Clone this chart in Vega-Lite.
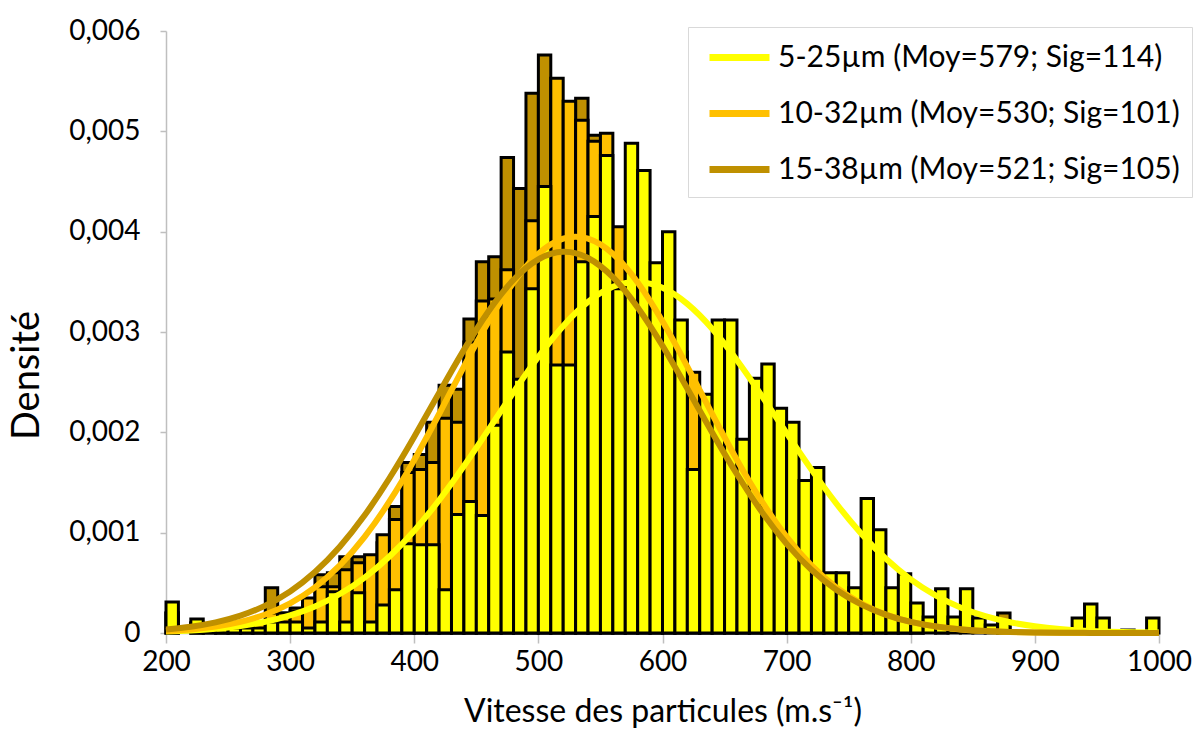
{
  "$schema": "https://vega.github.io/schema/vega-lite/v6.json",
  "width": 993,
  "height": 602,
  "autosize": {"type": "none"},
  "padding": {"left": 166, "top": 31, "right": 37, "bottom": 96},
  "background": "white",
  "config": {
    "font": "Lato",
    "view": {"stroke": null},
    "axis": {"grid": false, "labelColor": "#000", "titleColor": "#000", "titleFontWeight": "normal", "labelFont": "Lato", "titleFont": "Lato", "domainColor": "#bfbfbf", "tickColor": "#bfbfbf", "domainWidth": 1.5, "tickWidth": 1.5}
  },
  "datasets": {
    "barres": [
      {"serie":"15-38","vitesse":200,"fin":210,"densite":0.0002},
      {"serie":"15-38","vitesse":220,"fin":230,"densite":0.0001},
      {"serie":"15-38","vitesse":230,"fin":240,"densite":0.00007},
      {"serie":"15-38","vitesse":240,"fin":250,"densite":0.00005},
      {"serie":"15-38","vitesse":250,"fin":260,"densite":0.00005},
      {"serie":"15-38","vitesse":260,"fin":270,"densite":0.00008},
      {"serie":"15-38","vitesse":270,"fin":280,"densite":0.0001},
      {"serie":"15-38","vitesse":280,"fin":290,"densite":0.00045},
      {"serie":"15-38","vitesse":290,"fin":300,"densite":0.0002},
      {"serie":"15-38","vitesse":300,"fin":310,"densite":0.00025},
      {"serie":"15-38","vitesse":310,"fin":320,"densite":0.0003},
      {"serie":"15-38","vitesse":320,"fin":330,"densite":0.00058},
      {"serie":"15-38","vitesse":330,"fin":340,"densite":0.0006},
      {"serie":"15-38","vitesse":340,"fin":350,"densite":0.00076},
      {"serie":"15-38","vitesse":350,"fin":360,"densite":0.00076},
      {"serie":"15-38","vitesse":360,"fin":370,"densite":0.0007},
      {"serie":"15-38","vitesse":370,"fin":380,"densite":0.0009},
      {"serie":"15-38","vitesse":380,"fin":390,"densite":0.00126},
      {"serie":"15-38","vitesse":390,"fin":400,"densite":0.0017},
      {"serie":"15-38","vitesse":400,"fin":410,"densite":0.00178},
      {"serie":"15-38","vitesse":410,"fin":420,"densite":0.0021},
      {"serie":"15-38","vitesse":420,"fin":430,"densite":0.00247},
      {"serie":"15-38","vitesse":430,"fin":440,"densite":0.00243},
      {"serie":"15-38","vitesse":440,"fin":450,"densite":0.00313},
      {"serie":"15-38","vitesse":450,"fin":460,"densite":0.0037},
      {"serie":"15-38","vitesse":460,"fin":470,"densite":0.00375},
      {"serie":"15-38","vitesse":470,"fin":480,"densite":0.00474},
      {"serie":"15-38","vitesse":480,"fin":490,"densite":0.00443},
      {"serie":"15-38","vitesse":490,"fin":500,"densite":0.00538},
      {"serie":"15-38","vitesse":500,"fin":510,"densite":0.00576},
      {"serie":"15-38","vitesse":510,"fin":520,"densite":0.0052},
      {"serie":"15-38","vitesse":520,"fin":530,"densite":0.005},
      {"serie":"15-38","vitesse":530,"fin":540,"densite":0.00533},
      {"serie":"15-38","vitesse":540,"fin":550,"densite":0.00496},
      {"serie":"15-38","vitesse":550,"fin":560,"densite":0.0045},
      {"serie":"15-38","vitesse":560,"fin":570,"densite":0.0033},
      {"serie":"15-38","vitesse":570,"fin":580,"densite":0.0035},
      {"serie":"15-38","vitesse":580,"fin":590,"densite":0.0034},
      {"serie":"15-38","vitesse":590,"fin":600,"densite":0.003},
      {"serie":"15-38","vitesse":600,"fin":610,"densite":0.0029},
      {"serie":"15-38","vitesse":610,"fin":620,"densite":0.0026},
      {"serie":"15-38","vitesse":620,"fin":630,"densite":0.0022},
      {"serie":"15-38","vitesse":630,"fin":640,"densite":0.002},
      {"serie":"15-38","vitesse":640,"fin":650,"densite":0.0018},
      {"serie":"15-38","vitesse":650,"fin":660,"densite":0.0016},
      {"serie":"15-38","vitesse":660,"fin":670,"densite":0.0013},
      {"serie":"15-38","vitesse":670,"fin":680,"densite":0.0011},
      {"serie":"15-38","vitesse":680,"fin":690,"densite":0.0009},
      {"serie":"15-38","vitesse":690,"fin":700,"densite":0.0008},
      {"serie":"15-38","vitesse":700,"fin":710,"densite":0.0006},
      {"serie":"15-38","vitesse":710,"fin":720,"densite":0.0005},
      {"serie":"15-38","vitesse":720,"fin":730,"densite":0.0004},
      {"serie":"15-38","vitesse":730,"fin":740,"densite":0.0003},
      {"serie":"15-38","vitesse":740,"fin":750,"densite":0.0002},
      {"serie":"15-38","vitesse":750,"fin":760,"densite":0.0002},
      {"serie":"15-38","vitesse":760,"fin":770,"densite":0.0001},
      {"serie":"15-38","vitesse":770,"fin":780,"densite":0.0001},
      {"serie":"15-38","vitesse":780,"fin":790,"densite":0.0001},
      {"serie":"15-38","vitesse":790,"fin":800,"densite":0.0001},
      {"serie":"15-38","vitesse":800,"fin":810,"densite":0.00005},
      {"serie":"15-38","vitesse":820,"fin":830,"densite":0.00005},
      {"serie":"15-38","vitesse":870,"fin":880,"densite":0.0002},
      {"serie":"15-38","vitesse":970,"fin":980,"densite":0.00003},

      {"serie":"10-32","vitesse":200,"fin":210,"densite":0.0002},
      {"serie":"10-32","vitesse":220,"fin":230,"densite":0.0001},
      {"serie":"10-32","vitesse":230,"fin":240,"densite":0.00005},
      {"serie":"10-32","vitesse":240,"fin":250,"densite":0.00005},
      {"serie":"10-32","vitesse":250,"fin":260,"densite":0.00005},
      {"serie":"10-32","vitesse":260,"fin":270,"densite":0.00008},
      {"serie":"10-32","vitesse":270,"fin":280,"densite":0.0001},
      {"serie":"10-32","vitesse":280,"fin":290,"densite":0.0002},
      {"serie":"10-32","vitesse":290,"fin":300,"densite":0.0002},
      {"serie":"10-32","vitesse":300,"fin":310,"densite":0.00022},
      {"serie":"10-32","vitesse":310,"fin":320,"densite":0.00035},
      {"serie":"10-32","vitesse":320,"fin":330,"densite":0.00046},
      {"serie":"10-32","vitesse":330,"fin":340,"densite":0.00046},
      {"serie":"10-32","vitesse":340,"fin":350,"densite":0.00063},
      {"serie":"10-32","vitesse":350,"fin":360,"densite":0.0007},
      {"serie":"10-32","vitesse":360,"fin":370,"densite":0.00078},
      {"serie":"10-32","vitesse":370,"fin":380,"densite":0.00098},
      {"serie":"10-32","vitesse":380,"fin":390,"densite":0.00113},
      {"serie":"10-32","vitesse":390,"fin":400,"densite":0.0016},
      {"serie":"10-32","vitesse":400,"fin":410,"densite":0.00163},
      {"serie":"10-32","vitesse":410,"fin":420,"densite":0.0017},
      {"serie":"10-32","vitesse":420,"fin":430,"densite":0.00214},
      {"serie":"10-32","vitesse":430,"fin":440,"densite":0.0021},
      {"serie":"10-32","vitesse":440,"fin":450,"densite":0.0029},
      {"serie":"10-32","vitesse":450,"fin":460,"densite":0.00331},
      {"serie":"10-32","vitesse":460,"fin":470,"densite":0.00333},
      {"serie":"10-32","vitesse":470,"fin":480,"densite":0.00362},
      {"serie":"10-32","vitesse":480,"fin":490,"densite":0.0024},
      {"serie":"10-32","vitesse":490,"fin":500,"densite":0.00411},
      {"serie":"10-32","vitesse":500,"fin":510,"densite":0.0042},
      {"serie":"10-32","vitesse":510,"fin":520,"densite":0.00553},
      {"serie":"10-32","vitesse":520,"fin":530,"densite":0.0053},
      {"serie":"10-32","vitesse":530,"fin":540,"densite":0.00511},
      {"serie":"10-32","vitesse":540,"fin":550,"densite":0.0049},
      {"serie":"10-32","vitesse":550,"fin":560,"densite":0.00498},
      {"serie":"10-32","vitesse":560,"fin":570,"densite":0.00405},
      {"serie":"10-32","vitesse":570,"fin":580,"densite":0.0038},
      {"serie":"10-32","vitesse":580,"fin":590,"densite":0.0036},
      {"serie":"10-32","vitesse":590,"fin":600,"densite":0.0032},
      {"serie":"10-32","vitesse":600,"fin":610,"densite":0.003},
      {"serie":"10-32","vitesse":610,"fin":620,"densite":0.0028},
      {"serie":"10-32","vitesse":620,"fin":630,"densite":0.0026},
      {"serie":"10-32","vitesse":630,"fin":640,"densite":0.0021},
      {"serie":"10-32","vitesse":640,"fin":650,"densite":0.0019},
      {"serie":"10-32","vitesse":650,"fin":660,"densite":0.0017},
      {"serie":"10-32","vitesse":660,"fin":670,"densite":0.0014},
      {"serie":"10-32","vitesse":670,"fin":680,"densite":0.0012},
      {"serie":"10-32","vitesse":680,"fin":690,"densite":0.001},
      {"serie":"10-32","vitesse":690,"fin":700,"densite":0.0008},
      {"serie":"10-32","vitesse":700,"fin":710,"densite":0.0006},
      {"serie":"10-32","vitesse":710,"fin":720,"densite":0.0005},
      {"serie":"10-32","vitesse":720,"fin":730,"densite":0.0004},
      {"serie":"10-32","vitesse":730,"fin":740,"densite":0.0003},
      {"serie":"10-32","vitesse":740,"fin":750,"densite":0.0002},
      {"serie":"10-32","vitesse":750,"fin":760,"densite":0.0002},
      {"serie":"10-32","vitesse":760,"fin":770,"densite":0.0001},
      {"serie":"10-32","vitesse":770,"fin":780,"densite":0.0001},
      {"serie":"10-32","vitesse":780,"fin":790,"densite":0.0001},
      {"serie":"10-32","vitesse":790,"fin":800,"densite":0.00005},
      {"serie":"10-32","vitesse":800,"fin":810,"densite":0.00005},

      {"serie":"5-25","vitesse":200,"fin":210,"densite":0.00031},
      {"serie":"5-25","vitesse":220,"fin":230,"densite":0.00014},
      {"serie":"5-25","vitesse":240,"fin":250,"densite":0.00005},
      {"serie":"5-25","vitesse":250,"fin":260,"densite":0.00005},
      {"serie":"5-25","vitesse":260,"fin":270,"densite":0.00005},
      {"serie":"5-25","vitesse":270,"fin":280,"densite":0.00005},
      {"serie":"5-25","vitesse":280,"fin":290,"densite":0.00011},
      {"serie":"5-25","vitesse":290,"fin":300,"densite":0.00011},
      {"serie":"5-25","vitesse":300,"fin":310,"densite":0.00011},
      {"serie":"5-25","vitesse":310,"fin":320,"densite":0.00005},
      {"serie":"5-25","vitesse":320,"fin":330,"densite":0.00011},
      {"serie":"5-25","vitesse":330,"fin":340,"densite":0.00041},
      {"serie":"5-25","vitesse":340,"fin":350,"densite":0.00011},
      {"serie":"5-25","vitesse":350,"fin":360,"densite":0.0004},
      {"serie":"5-25","vitesse":360,"fin":370,"densite":0.00011},
      {"serie":"5-25","vitesse":370,"fin":380,"densite":0.00028},
      {"serie":"5-25","vitesse":380,"fin":390,"densite":0.00043},
      {"serie":"5-25","vitesse":390,"fin":400,"densite":0.00089},
      {"serie":"5-25","vitesse":400,"fin":410,"densite":0.00088},
      {"serie":"5-25","vitesse":410,"fin":420,"densite":0.00088},
      {"serie":"5-25","vitesse":420,"fin":430,"densite":0.00043},
      {"serie":"5-25","vitesse":430,"fin":440,"densite":0.00118},
      {"serie":"5-25","vitesse":440,"fin":450,"densite":0.00131},
      {"serie":"5-25","vitesse":450,"fin":460,"densite":0.00117},
      {"serie":"5-25","vitesse":460,"fin":470,"densite":0.00207},
      {"serie":"5-25","vitesse":470,"fin":480,"densite":0.0028},
      {"serie":"5-25","vitesse":480,"fin":490,"densite":0.00253},
      {"serie":"5-25","vitesse":490,"fin":500,"densite":0.00343},
      {"serie":"5-25","vitesse":500,"fin":510,"densite":0.00445},
      {"serie":"5-25","vitesse":510,"fin":520,"densite":0.00267},
      {"serie":"5-25","vitesse":520,"fin":530,"densite":0.00267},
      {"serie":"5-25","vitesse":530,"fin":540,"densite":0.0037},
      {"serie":"5-25","vitesse":540,"fin":550,"densite":0.00415},
      {"serie":"5-25","vitesse":550,"fin":560,"densite":0.00476},
      {"serie":"5-25","vitesse":560,"fin":570,"densite":0.00343},
      {"serie":"5-25","vitesse":570,"fin":580,"densite":0.00488},
      {"serie":"5-25","vitesse":580,"fin":590,"densite":0.00461},
      {"serie":"5-25","vitesse":590,"fin":600,"densite":0.00369},
      {"serie":"5-25","vitesse":600,"fin":610,"densite":0.004},
      {"serie":"5-25","vitesse":610,"fin":620,"densite":0.00312},
      {"serie":"5-25","vitesse":620,"fin":630,"densite":0.00163},
      {"serie":"5-25","vitesse":630,"fin":640,"densite":0.00238},
      {"serie":"5-25","vitesse":640,"fin":650,"densite":0.00312},
      {"serie":"5-25","vitesse":650,"fin":660,"densite":0.00312},
      {"serie":"5-25","vitesse":660,"fin":670,"densite":0.00193},
      {"serie":"5-25","vitesse":670,"fin":680,"densite":0.00254},
      {"serie":"5-25","vitesse":680,"fin":690,"densite":0.00268},
      {"serie":"5-25","vitesse":690,"fin":700,"densite":0.00224},
      {"serie":"5-25","vitesse":700,"fin":710,"densite":0.0021},
      {"serie":"5-25","vitesse":710,"fin":720,"densite":0.00152},
      {"serie":"5-25","vitesse":720,"fin":730,"densite":0.00165},
      {"serie":"5-25","vitesse":730,"fin":740,"densite":0.0006},
      {"serie":"5-25","vitesse":740,"fin":750,"densite":0.0006},
      {"serie":"5-25","vitesse":750,"fin":760,"densite":0.00045},
      {"serie":"5-25","vitesse":760,"fin":770,"densite":0.00134},
      {"serie":"5-25","vitesse":770,"fin":780,"densite":0.00103},
      {"serie":"5-25","vitesse":780,"fin":790,"densite":0.00045},
      {"serie":"5-25","vitesse":790,"fin":800,"densite":0.00059},
      {"serie":"5-25","vitesse":800,"fin":810,"densite":0.0003},
      {"serie":"5-25","vitesse":810,"fin":820,"densite":0.00016},
      {"serie":"5-25","vitesse":820,"fin":830,"densite":0.00044},
      {"serie":"5-25","vitesse":830,"fin":840,"densite":0.00016},
      {"serie":"5-25","vitesse":840,"fin":850,"densite":0.00044},
      {"serie":"5-25","vitesse":850,"fin":860,"densite":0.00015},
      {"serie":"5-25","vitesse":860,"fin":870,"densite":0.00008},
      {"serie":"5-25","vitesse":870,"fin":880,"densite":0.00012},
      {"serie":"5-25","vitesse":930,"fin":940,"densite":0.00015},
      {"serie":"5-25","vitesse":940,"fin":950,"densite":0.00029},
      {"serie":"5-25","vitesse":950,"fin":960,"densite":0.00015},
      {"serie":"5-25","vitesse":990,"fin":1000,"densite":0.00015}
    ],
    "courbes": [
      {"serie":"5-25µm (Moy=579; Sig=114)","vitesse":200,"densite":1.393e-5},
      {"serie":"5-25µm (Moy=579; Sig=114)","vitesse":220,"densite":2.458e-5},
      {"serie":"5-25µm (Moy=579; Sig=114)","vitesse":240,"densite":4.205e-5},
      {"serie":"5-25µm (Moy=579; Sig=114)","vitesse":260,"densite":6.978e-5},
      {"serie":"5-25µm (Moy=579; Sig=114)","vitesse":280,"densite":1.1226e-4},
      {"serie":"5-25µm (Moy=579; Sig=114)","vitesse":300,"densite":1.7514e-4},
      {"serie":"5-25µm (Moy=579; Sig=114)","vitesse":320,"densite":2.6495e-4},
      {"serie":"5-25µm (Moy=579; Sig=114)","vitesse":340,"densite":3.8868e-4},
      {"serie":"5-25µm (Moy=579; Sig=114)","vitesse":360,"densite":5.5289e-4},
      {"serie":"5-25µm (Moy=579; Sig=114)","vitesse":380,"densite":7.6264e-4},
      {"serie":"5-25µm (Moy=579; Sig=114)","vitesse":400,"densite":1.0201e-3},
      {"serie":"5-25µm (Moy=579; Sig=114)","vitesse":420,"densite":1.3231e-3},
      {"serie":"5-25µm (Moy=579; Sig=114)","vitesse":440,"densite":1.6641e-3},
      {"serie":"5-25µm (Moy=579; Sig=114)","vitesse":460,"densite":2.0295e-3},
      {"serie":"5-25µm (Moy=579; Sig=114)","vitesse":480,"densite":2.4002e-3},
      {"serie":"5-25µm (Moy=579; Sig=114)","vitesse":500,"densite":2.7525e-3},
      {"serie":"5-25µm (Moy=579; Sig=114)","vitesse":520,"densite":3.0609e-3},
      {"serie":"5-25µm (Moy=579; Sig=114)","vitesse":540,"densite":3.3006e-3},
      {"serie":"5-25µm (Moy=579; Sig=114)","vitesse":560,"densite":3.4512e-3},
      {"serie":"5-25µm (Moy=579; Sig=114)","vitesse":580,"densite":3.4994e-3},
      {"serie":"5-25µm (Moy=579; Sig=114)","vitesse":600,"densite":3.4406e-3},
      {"serie":"5-25µm (Moy=579; Sig=114)","vitesse":620,"densite":3.2803e-3},
      {"serie":"5-25µm (Moy=579; Sig=114)","vitesse":640,"densite":3.0327e-3},
      {"serie":"5-25µm (Moy=579; Sig=114)","vitesse":660,"densite":2.7188e-3},
      {"serie":"5-25µm (Moy=579; Sig=114)","vitesse":680,"densite":2.3635e-3},
      {"serie":"5-25µm (Moy=579; Sig=114)","vitesse":700,"densite":1.9924e-3},
      {"serie":"5-25µm (Moy=579; Sig=114)","vitesse":720,"densite":1.6286e-3},
      {"serie":"5-25µm (Moy=579; Sig=114)","vitesse":740,"densite":1.2909e-3},
      {"serie":"5-25µm (Moy=579; Sig=114)","vitesse":760,"densite":9.9222e-4},
      {"serie":"5-25µm (Moy=579; Sig=114)","vitesse":780,"densite":7.3953e-4},
      {"serie":"5-25µm (Moy=579; Sig=114)","vitesse":800,"densite":5.3448e-4},
      {"serie":"5-25µm (Moy=579; Sig=114)","vitesse":820,"densite":3.7458e-4},
      {"serie":"5-25µm (Moy=579; Sig=114)","vitesse":840,"densite":2.5456e-4},
      {"serie":"5-25µm (Moy=579; Sig=114)","vitesse":860,"densite":1.6775e-4},
      {"serie":"5-25µm (Moy=579; Sig=114)","vitesse":880,"densite":1.0719e-4},
      {"serie":"5-25µm (Moy=579; Sig=114)","vitesse":900,"densite":6.642e-5},
      {"serie":"5-25µm (Moy=579; Sig=114)","vitesse":920,"densite":3.991e-5},
      {"serie":"5-25µm (Moy=579; Sig=114)","vitesse":940,"densite":2.325e-5},
      {"serie":"5-25µm (Moy=579; Sig=114)","vitesse":960,"densite":1.314e-5},
      {"serie":"5-25µm (Moy=579; Sig=114)","vitesse":980,"densite":7.2e-6},
      {"serie":"5-25µm (Moy=579; Sig=114)","vitesse":1000,"densite":3.8e-6},

      {"serie":"10-32µm (Moy=530; Sig=101)","vitesse":200,"densite":1.899e-5},
      {"serie":"10-32µm (Moy=530; Sig=101)","vitesse":220,"densite":3.556e-5},
      {"serie":"10-32µm (Moy=530; Sig=101)","vitesse":240,"densite":6.403e-5},
      {"serie":"10-32µm (Moy=530; Sig=101)","vitesse":260,"densite":1.1086e-4},
      {"serie":"10-32µm (Moy=530; Sig=101)","vitesse":280,"densite":1.8457e-4},
      {"serie":"10-32µm (Moy=530; Sig=101)","vitesse":300,"densite":2.9547e-4},
      {"serie":"10-32µm (Moy=530; Sig=101)","vitesse":320,"densite":4.5482e-4},
      {"serie":"10-32µm (Moy=530; Sig=101)","vitesse":340,"densite":6.7318e-4},
      {"serie":"10-32µm (Moy=530; Sig=101)","vitesse":360,"densite":9.5807e-4},
      {"serie":"10-32µm (Moy=530; Sig=101)","vitesse":380,"densite":1.3111e-3},
      {"serie":"10-32µm (Moy=530; Sig=101)","vitesse":400,"densite":1.7252e-3},
      {"serie":"10-32µm (Moy=530; Sig=101)","vitesse":420,"densite":2.1828e-3},
      {"serie":"10-32µm (Moy=530; Sig=101)","vitesse":440,"densite":2.6556e-3},
      {"serie":"10-32µm (Moy=530; Sig=101)","vitesse":460,"densite":3.1066e-3},
      {"serie":"10-32µm (Moy=530; Sig=101)","vitesse":480,"densite":3.4944e-3},
      {"serie":"10-32µm (Moy=530; Sig=101)","vitesse":500,"densite":3.7794e-3},
      {"serie":"10-32µm (Moy=530; Sig=101)","vitesse":520,"densite":3.9306e-3},
      {"serie":"10-32µm (Moy=530; Sig=101)","vitesse":540,"densite":3.9306e-3},
      {"serie":"10-32µm (Moy=530; Sig=101)","vitesse":560,"densite":3.7794e-3},
      {"serie":"10-32µm (Moy=530; Sig=101)","vitesse":580,"densite":3.4944e-3},
      {"serie":"10-32µm (Moy=530; Sig=101)","vitesse":600,"densite":3.1066e-3},
      {"serie":"10-32µm (Moy=530; Sig=101)","vitesse":620,"densite":2.6556e-3},
      {"serie":"10-32µm (Moy=530; Sig=101)","vitesse":640,"densite":2.1828e-3},
      {"serie":"10-32µm (Moy=530; Sig=101)","vitesse":660,"densite":1.7252e-3},
      {"serie":"10-32µm (Moy=530; Sig=101)","vitesse":680,"densite":1.3111e-3},
      {"serie":"10-32µm (Moy=530; Sig=101)","vitesse":700,"densite":9.5807e-4},
      {"serie":"10-32µm (Moy=530; Sig=101)","vitesse":720,"densite":6.7318e-4},
      {"serie":"10-32µm (Moy=530; Sig=101)","vitesse":740,"densite":4.5482e-4},
      {"serie":"10-32µm (Moy=530; Sig=101)","vitesse":760,"densite":2.9547e-4},
      {"serie":"10-32µm (Moy=530; Sig=101)","vitesse":780,"densite":1.8457e-4},
      {"serie":"10-32µm (Moy=530; Sig=101)","vitesse":800,"densite":1.1086e-4},
      {"serie":"10-32µm (Moy=530; Sig=101)","vitesse":820,"densite":6.403e-5},
      {"serie":"10-32µm (Moy=530; Sig=101)","vitesse":840,"densite":3.556e-5},
      {"serie":"10-32µm (Moy=530; Sig=101)","vitesse":860,"densite":1.899e-5},
      {"serie":"10-32µm (Moy=530; Sig=101)","vitesse":880,"densite":9.75e-6},
      {"serie":"10-32µm (Moy=530; Sig=101)","vitesse":900,"densite":4.81e-6},
      {"serie":"10-32µm (Moy=530; Sig=101)","vitesse":920,"densite":2.29e-6},
      {"serie":"10-32µm (Moy=530; Sig=101)","vitesse":940,"densite":1.04e-6},
      {"serie":"10-32µm (Moy=530; Sig=101)","vitesse":960,"densite":4.6e-7},
      {"serie":"10-32µm (Moy=530; Sig=101)","vitesse":980,"densite":1.9e-7},
      {"serie":"10-32µm (Moy=530; Sig=101)","vitesse":1000,"densite":8e-8},

      {"serie":"15-38µm (Moy=521; Sig=105)","vitesse":200,"densite":3.550e-5},
      {"serie":"15-38µm (Moy=521; Sig=105)","vitesse":220,"densite":6.241e-5},
      {"serie":"15-38µm (Moy=521; Sig=105)","vitesse":240,"densite":1.0581e-4},
      {"serie":"15-38µm (Moy=521; Sig=105)","vitesse":260,"densite":1.7299e-4},
      {"serie":"15-38µm (Moy=521; Sig=105)","vitesse":280,"densite":2.7275e-4},
      {"serie":"15-38µm (Moy=521; Sig=105)","vitesse":300,"densite":4.1472e-4},
      {"serie":"15-38µm (Moy=521; Sig=105)","vitesse":320,"densite":6.0813e-4},
      {"serie":"15-38µm (Moy=521; Sig=105)","vitesse":340,"densite":8.5994e-4},
      {"serie":"15-38µm (Moy=521; Sig=105)","vitesse":360,"densite":1.1727e-3},
      {"serie":"15-38µm (Moy=521; Sig=105)","vitesse":380,"densite":1.5422e-3},
      {"serie":"15-38µm (Moy=521; Sig=105)","vitesse":400,"densite":1.9560e-3},
      {"serie":"15-38µm (Moy=521; Sig=105)","vitesse":420,"densite":2.3923e-3},
      {"serie":"15-38µm (Moy=521; Sig=105)","vitesse":440,"densite":2.8216e-3},
      {"serie":"15-38µm (Moy=521; Sig=105)","vitesse":460,"densite":3.2095e-3},
      {"serie":"15-38µm (Moy=521; Sig=105)","vitesse":480,"densite":3.5206e-3},
      {"serie":"15-38µm (Moy=521; Sig=105)","vitesse":500,"densite":3.7243e-3},
      {"serie":"15-38µm (Moy=521; Sig=105)","vitesse":520,"densite":3.7993e-3},
      {"serie":"15-38µm (Moy=521; Sig=105)","vitesse":540,"densite":3.7378e-3},
      {"serie":"15-38µm (Moy=521; Sig=105)","vitesse":560,"densite":3.5463e-3},
      {"serie":"15-38µm (Moy=521; Sig=105)","vitesse":580,"densite":3.2446e-3},
      {"serie":"15-38µm (Moy=521; Sig=105)","vitesse":600,"densite":2.8629e-3},
      {"serie":"15-38µm (Moy=521; Sig=105)","vitesse":620,"densite":2.4361e-3},
      {"serie":"15-38µm (Moy=521; Sig=105)","vitesse":640,"densite":1.9990e-3},
      {"serie":"15-38µm (Moy=521; Sig=105)","vitesse":660,"densite":1.5819e-3},
      {"serie":"15-38µm (Moy=521; Sig=105)","vitesse":680,"densite":1.2073e-3},
      {"serie":"15-38µm (Moy=521; Sig=105)","vitesse":700,"densite":8.8849e-4},
      {"serie":"15-38µm (Moy=521; Sig=105)","vitesse":720,"densite":6.3060e-4},
      {"serie":"15-38µm (Moy=521; Sig=105)","vitesse":740,"densite":4.3161e-4},
      {"serie":"15-38µm (Moy=521; Sig=105)","vitesse":760,"densite":2.8489e-4},
      {"serie":"15-38µm (Moy=521; Sig=105)","vitesse":780,"densite":1.8135e-4},
      {"serie":"15-38µm (Moy=521; Sig=105)","vitesse":800,"densite":1.1132e-4},
      {"serie":"15-38µm (Moy=521; Sig=105)","vitesse":820,"densite":6.590e-5},
      {"serie":"15-38µm (Moy=521; Sig=105)","vitesse":840,"densite":3.762e-5},
      {"serie":"15-38µm (Moy=521; Sig=105)","vitesse":860,"densite":2.071e-5},
      {"serie":"15-38µm (Moy=521; Sig=105)","vitesse":880,"densite":1.100e-5},
      {"serie":"15-38µm (Moy=521; Sig=105)","vitesse":900,"densite":5.63e-6},
      {"serie":"15-38µm (Moy=521; Sig=105)","vitesse":920,"densite":2.78e-6},
      {"serie":"15-38µm (Moy=521; Sig=105)","vitesse":940,"densite":1.32e-6},
      {"serie":"15-38µm (Moy=521; Sig=105)","vitesse":960,"densite":6.1e-7},
      {"serie":"15-38µm (Moy=521; Sig=105)","vitesse":980,"densite":2.7e-7},
      {"serie":"15-38µm (Moy=521; Sig=105)","vitesse":1000,"densite":1.2e-7}
    ]
  },
  "encoding": {
    "x": {
      "field": "vitesse", "type": "quantitative",
      "scale": {"domain": [200, 1000], "nice": false, "zero": false},
      "axis": {
        "values": [200, 300, 400, 500, 600, 700, 800, 900, 1000],
        "format": "d",
        "title": "Vitesse des particules (m.s⁻¹)",
        "titleFontSize": 32, "titleY": 88, "titleBaseline": "alphabetic",
        "labelFontSize": 28, "tickSize": 10, "labelPadding": 5, "labelFlush": false
      }
    },
    "y": {
      "field": "densite", "type": "quantitative",
      "scale": {"domain": [0, 0.006], "nice": false},
      "axis": {
        "values": [0, 0.001, 0.002, 0.003, 0.004, 0.005, 0.006],
        "labelExpr": "datum.value == 0 ? '0' : replace(format(datum.value, '.3f'), '.', ',')",
        "title": "Densité",
        "titleFontSize": 38, "titleX": -139, "titleY": 344, "titleAngle": -90,
        "titleAlign": "center", "titleBaseline": "middle",
        "labelFontSize": 28, "tickSize": 6, "labelPadding": 20, "labelFlush": false
      }
    }
  },
  "layer": [
    {
      "data": {"name": "barres"},
      "transform": [{"filter": "datum.serie === '15-38'"}],
      "mark": {"type": "bar", "fill": "#BF9000", "stroke": "#000000", "strokeWidth": 3},
      "encoding": {"x2": {"field": "fin"}, "y2": {"datum": 0}}
    },
    {
      "data": {"name": "barres"},
      "transform": [{"filter": "datum.serie === '10-32'"}],
      "mark": {"type": "bar", "fill": "#FFC000", "stroke": "#000000", "strokeWidth": 3},
      "encoding": {"x2": {"field": "fin"}, "y2": {"datum": 0}}
    },
    {
      "data": {"name": "barres"},
      "transform": [{"filter": "datum.serie === '5-25'"}],
      "mark": {"type": "bar", "fill": "#FFFF00", "stroke": "#000000", "strokeWidth": 3},
      "encoding": {"x2": {"field": "fin"}, "y2": {"datum": 0}}
    },
    {
      "data": {"name": "courbes"},
      "transform": [{"filter": "datum.serie === '5-25µm (Moy=579; Sig=114)'"}],
      "mark": {"type": "line", "strokeWidth": 6, "interpolate": "natural"},
      "encoding": {
        "color": {
          "field": "serie", "type": "nominal",
          "scale": {"domain": ["5-25µm (Moy=579; Sig=114)", "10-32µm (Moy=530; Sig=101)", "15-38µm (Moy=521; Sig=105)"], "range": ["#FFFF00", "#FFC000", "#BF9000"]},
          "legend": {"orient": "none", "legendX": 522, "legendY": -4, "title": null, "symbolType": "M-0.6,0L3.4,0", "symbolSize": 900, "symbolStrokeWidth": 7, "labelFontSize": 30, "labelFont": "Lato", "labelColor": "#000", "labelOffset": 41, "rowPadding": 22, "padding": 12, "strokeColor": "#d9d9d9", "fillColor": "#ffffff", "labelLimit": 0}
        }
      }
    },
    {
      "data": {"name": "courbes"},
      "transform": [{"filter": "datum.serie === '10-32µm (Moy=530; Sig=101)'"}],
      "mark": {"type": "line", "strokeWidth": 6, "interpolate": "natural"},
      "encoding": {
        "color": {
          "field": "serie", "type": "nominal",
          "scale": {"domain": ["5-25µm (Moy=579; Sig=114)", "10-32µm (Moy=530; Sig=101)", "15-38µm (Moy=521; Sig=105)"], "range": ["#FFFF00", "#FFC000", "#BF9000"]},
          "legend": {"orient": "none", "legendX": 522, "legendY": -4, "title": null, "symbolType": "M-0.6,0L3.4,0", "symbolSize": 900, "symbolStrokeWidth": 7, "labelFontSize": 30, "labelFont": "Lato", "labelColor": "#000", "labelOffset": 41, "rowPadding": 22, "padding": 12, "strokeColor": "#d9d9d9", "fillColor": "#ffffff", "labelLimit": 0}
        }
      }
    },
    {
      "data": {"name": "courbes"},
      "transform": [{"filter": "datum.serie === '15-38µm (Moy=521; Sig=105)'"}],
      "mark": {"type": "line", "strokeWidth": 6, "interpolate": "natural"},
      "encoding": {
        "color": {
          "field": "serie", "type": "nominal",
          "scale": {"domain": ["5-25µm (Moy=579; Sig=114)", "10-32µm (Moy=530; Sig=101)", "15-38µm (Moy=521; Sig=105)"], "range": ["#FFFF00", "#FFC000", "#BF9000"]},
          "legend": {"orient": "none", "legendX": 522, "legendY": -4, "title": null, "symbolType": "M-0.6,0L3.4,0", "symbolSize": 900, "symbolStrokeWidth": 7, "labelFontSize": 30, "labelFont": "Lato", "labelColor": "#000", "labelOffset": 41, "rowPadding": 22, "padding": 12, "strokeColor": "#d9d9d9", "fillColor": "#ffffff", "labelLimit": 0}
        }
      }
    }
  ]
}
